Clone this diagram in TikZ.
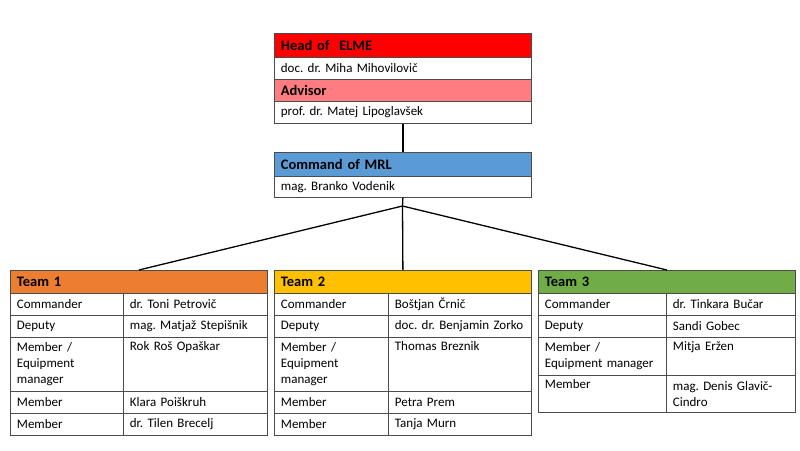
\documentclass[tikz,border=0pt]{standalone}
\usepackage{fontspec}
\setmainfont{Carlito}
\frenchspacing
\definecolor{hred}{HTML}{FF0000}
\definecolor{hsalmon}{HTML}{FF7C80}
\definecolor{hblue}{HTML}{5B9BD5}
\definecolor{horange}{HTML}{ED7D31}
\definecolor{hyellow}{HTML}{FFC000}
\definecolor{hgreen}{HTML}{70AD47}
\newcommand\bodyfnt{\fontsize{13}{16}\selectfont}
\newcommand\headfnt{\fontsize{14.5}{17}\selectfont\bfseries}
\newcommand\cellbox[8]{%
  \pgfmathsetmacro\cw{#4-#2-13}\pgfmathsetmacro\ch{#5-#3}%
  \node[cell, fill=#6, font=#7, text width=\cw pt, minimum height=\ch pt] (#1) at (#2,#3) {#8};}
\begin{document}
\begin{tikzpicture}[x=1pt,y=-1pt,
  cell/.style={draw=black!70, line width=0.8pt, anchor=north west, inner xsep=6.5pt, inner ysep=0pt, align=left},
  conn/.style={draw=black, line width=1.3pt}]
\useasboundingbox (0,0) rectangle (800,450);
% top box
\cellbox{head}{274}{33}{531}{57}{hred}{\headfnt}{Head of\ \ ELME}
\cellbox{headn}{274}{57}{531}{79}{white}{\bodyfnt}{doc. dr. Miha Mihovilovič}
\cellbox{adv}{274}{79}{531}{101}{hsalmon}{\headfnt}{Advisor}
\cellbox{advn}{274}{101}{531}{123}{white}{\bodyfnt}{prof. dr. Matej Lipoglavšek}
\cellbox{cmd}{274}{152}{531}{176}{hblue}{\headfnt}{Command of MRL}
\cellbox{cmdn}{274}{176}{531}{197}{white}{\bodyfnt}{mag. Branko Vodenik}
% team 1
\cellbox{ta}{10}{270}{267}{293}{horange}{\headfnt}{Team 1}
\cellbox{ta1l}{10}{293}{123}{315}{white}{\bodyfnt}{Commander}
\cellbox{ta1r}{123}{293}{267}{315}{white}{\bodyfnt}{dr. Toni Petrovič}
\cellbox{ta2l}{10}{315}{123}{337}{white}{\bodyfnt}{Deputy}
\cellbox{ta2r}{123}{315}{267}{337}{white}{\bodyfnt}{mag. Matjaž Stepišnik}
\cellbox{ta3l}{10}{337}{123}{391}{white}{\bodyfnt}{Member /\\Equipment\\manager}
\cellbox{ta3r}{123}{337}{267}{391}{white}{\bodyfnt}{Rok Roš Opaškar\\\strut\\\strut}
\cellbox{ta4l}{10}{391}{123}{413}{white}{\bodyfnt}{Member}
\cellbox{ta4r}{123}{391}{267}{413}{white}{\bodyfnt}{Klara Poiškruh}
\cellbox{ta5l}{10}{413}{123}{435}{white}{\bodyfnt}{Member}
\cellbox{ta5r}{123}{413}{267}{435}{white}{\bodyfnt}{dr. Tilen Brecelj}
% team 2
\cellbox{tb}{274}{270}{531}{293}{hyellow}{\headfnt}{Team 2}
\cellbox{tb1l}{274}{293}{388}{315}{white}{\bodyfnt}{Commander}
\cellbox{tb1r}{388}{293}{531}{315}{white}{\bodyfnt}{Boštjan Črnič}
\cellbox{tb2l}{274}{315}{388}{337}{white}{\bodyfnt}{Deputy}
\cellbox{tb2r}{388}{315}{531}{337}{white}{\bodyfnt}{doc. dr. Benjamin Zorko}
\cellbox{tb3l}{274}{337}{388}{391}{white}{\bodyfnt}{Member /\\Equipment\\manager}
\cellbox{tb3r}{388}{337}{531}{391}{white}{\bodyfnt}{Thomas Breznik\\\strut\\\strut}
\cellbox{tb4l}{274}{391}{388}{413}{white}{\bodyfnt}{Member}
\cellbox{tb4r}{388}{391}{531}{413}{white}{\bodyfnt}{Petra Prem}
\cellbox{tb5l}{274}{413}{388}{435}{white}{\bodyfnt}{Member}
\cellbox{tb5r}{388}{413}{531}{435}{white}{\bodyfnt}{Tanja Murn}
% team 3
\cellbox{tc}{538}{270}{795}{293}{hgreen}{\headfnt}{Team 3}
\cellbox{tc1l}{538}{293}{666}{315}{white}{\bodyfnt}{Commander}
\cellbox{tc1r}{666}{293}{795}{315}{white}{\bodyfnt}{dr. Tinkara Bučar}
\cellbox{tc2l}{538}{315}{666}{337}{white}{\bodyfnt}{Deputy}
\cellbox{tc2r}{666}{315}{795}{337}{white}{\bodyfnt}{Sandi Gobec}
\cellbox{tc3l}{538}{337}{666}{375}{white}{\bodyfnt}{Member /\\Equipment manager}
\cellbox{tc3r}{666}{337}{795}{375}{white}{\bodyfnt}{Mitja Eržen\\\strut}
\cellbox{tc4l}{538}{375}{666}{412}{white}{\bodyfnt}{Member\\\strut}
\cellbox{tc4r}{666}{375}{795}{412}{white}{\bodyfnt}{mag. Denis Glavič-\\Cindro}
% connectors
\coordinate (junc) at (402.5,206);
\draw[conn] (advn.south) -- (cmd.north);
\draw[conn] (cmdn.south) -- (junc);
\draw[conn] (junc) -- (ta.north);
\draw[conn] (junc) -- (tb.north);
\draw[conn] (junc) -- (tc.north);
\end{tikzpicture}
\end{document}
